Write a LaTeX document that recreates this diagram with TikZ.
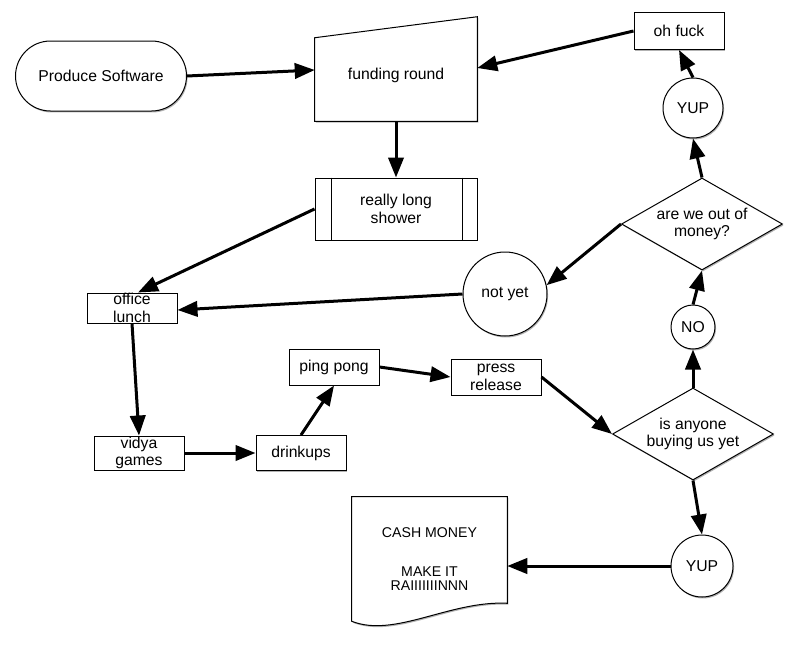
\documentclass[tikz,border=0pt]{standalone}
\usepackage{fontspec}
\setmainfont{Liberation Sans}
\usetikzlibrary{shapes.geometric,shapes.misc,arrows.meta,shadows,backgrounds}
\begin{document}
\begin{tikzpicture}[x=0.75pt,y=-0.75pt,
  every node/.style={font=\fontsize{11.8pt}{13.3pt}\selectfont, inner sep=0pt, align=center},
  softshadow/.style={drop shadow={shadow xshift=0.8pt,shadow yshift=-1.1pt,opacity=0.3,fill=black}},
  outline/.style={draw, line width=0.75pt, fill=white, softshadow},
  box/.style={outline, rectangle, minimum width=67.5pt},
  pill/.style={outline, rounded rectangle, minimum width=128.25pt, minimum height=52.5pt},
  circ/.style={outline, circle},
  decision/.style={outline, diamond, aspect=1.75, minimum width=120.75pt, minimum height=69pt},
  flow/.style={line width=2.25pt, -{Triangle[length=15pt,width=11.5pt]}},
]
\useasboundingbox (0,0) rectangle (798,653);

% start / terminal
\node[pill] (prod) at (101,76) {Produce Software};

% manual-input shaped step (slanted top), outline drawn behind
\node[minimum width=121.5pt, minimum height=69pt] (fund) at (396,75) {funding round};
\begin{scope}[on background layer]
  \draw[outline] (fund.south west) -- (fund.south east)
    -- ([yshift=9pt]fund.north east) -- ([yshift=-6.75pt]fund.north west) -- cycle;
\end{scope}

% predefined process
\node[box, minimum width=121.5pt, minimum height=46.5pt] (shower) at (396,209) {really long\\shower};
\draw[line width=0.75pt] ([xshift=12.75pt]shower.north west) -- ([xshift=12.75pt]shower.south west);
\draw[line width=0.75pt] ([xshift=-11.25pt]shower.north east) -- ([xshift=-11.25pt]shower.south east);

% plain steps
\node[box, minimum height=22.5pt] (lunch) at (132,308) {office\\lunch};
\node[box, minimum height=25.5pt] (vidya) at (139,453) {vidya\\games};
\node[box, minimum height=26.25pt] (drink) at (301,453) {drinkups};
\node[box, minimum height=27pt] (ping) at (334,367) {ping pong};
\node[box, minimum height=27pt] (press) at (496,377) {press\\release};
\node[box, minimum height=27.75pt] (ohfuck) at (679,31) {oh fuck};

% decisions
\node[decision] (money) at (702,224) {are we out of\\money?};
\node[decision] (anyone) at (693,434) {is anyone\\buying us yet};

% answers
\node[circ, minimum size=63pt] (notyet) at (505,294) {not yet};
\node[circ, minimum size=45pt] (yup1) at (693,108) {YUP};
\node[circ, minimum size=33pt] (no) at (693,327) {NO};
\node[circ, minimum size=46.5pt] (yup2) at (702,566) {YUP};

% document with wavy bottom, outline drawn behind
\node[minimum width=116.25pt, minimum height=93pt, font=\fontsize{10.6pt}{10.2pt}\selectfont]
  (doc) at (429.5,559) {CASH MONEY\\[19pt]MAKE IT\\RAIIIIIIINNN};
\begin{scope}[on background layer]
  \draw[outline] (doc.south west) -- (doc.north west) -- (doc.north east)
    -- ([yshift=13.5pt]doc.south east)
    .. controls +(-57,-3) and +(43,17) .. (doc.south west) -- cycle;
\end{scope}

% connectors
\draw[flow] (prod.east) -- ([yshift=3.75pt]fund.west);
\draw[flow] (fund.south) -- (shower.north);
\draw[flow] (shower.west) -- ([xshift=4.5pt]lunch.north);
\draw[flow] (lunch.south) -- (vidya.north);
\draw[flow] (vidya.east) -- (drink.west);
\draw[flow] (drink.north) -- (ping.south);
\draw[flow] (ping.east) -- (press.west);
\draw[flow] (press.east) -- (anyone.west);
\draw[flow] (anyone.north) -- (no.south);
\draw[flow] (no.north) -- (money.south);
\draw[flow] (money.west) -- (notyet.12);
\draw[flow] (notyet.west) -- ([yshift=-1.5pt]lunch.east);
\draw[flow] (money.north) -- (yup1.south);
\draw[flow] (yup1.north) -- (ohfuck.south);
\draw[flow] (ohfuck.west) -- ([yshift=5.25pt]fund.east);
\draw[flow] (anyone.south) -- (yup2.north);
\draw[flow] (yup2.west) -- (doc.east |- yup2.west);
\end{tikzpicture}
\end{document}
